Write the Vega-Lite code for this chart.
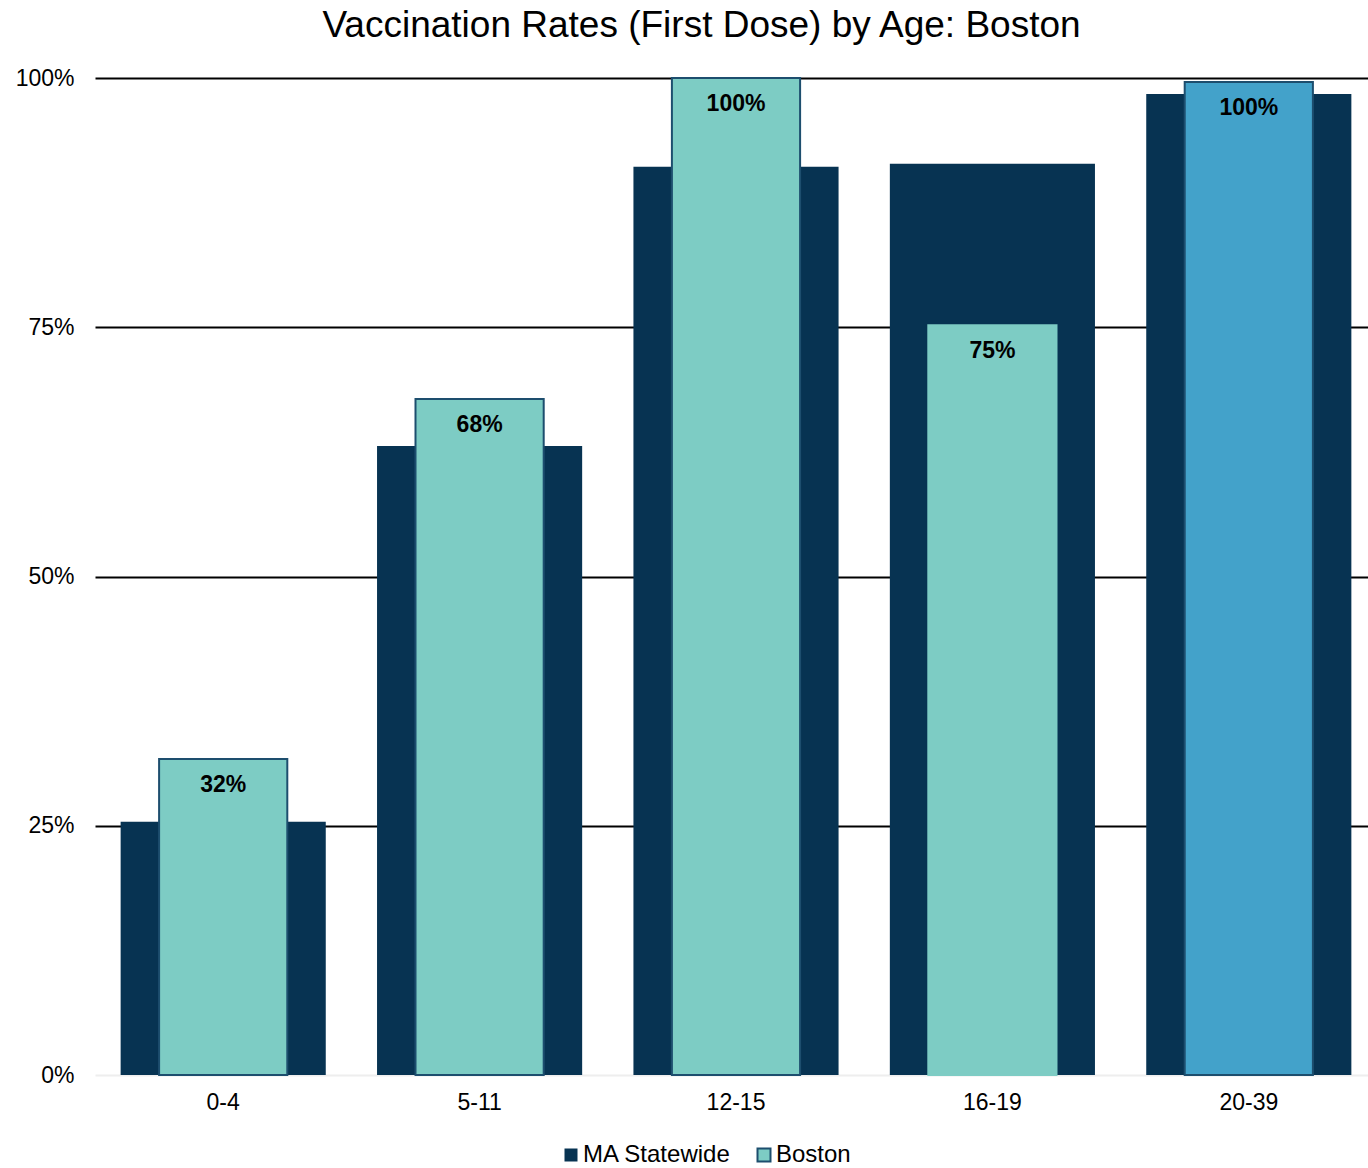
{
  "$schema": "https://vega.github.io/schema/vega-lite/v6.json",
  "width": 1273,
  "height": 997,
  "autosize": {"type": "none"},
  "padding": {"left": 95, "top": 78, "right": 0, "bottom": 93},
  "background": "white",
  "config": {
    "view": {"stroke": null},
    "font": "Liberation Sans"
  },
  "title": {
    "text": "Vaccination Rates (First Dose) by Age: Boston",
    "fontSize": 37,
    "fontWeight": "normal",
    "color": "black",
    "font": "Liberation Sans",
    "anchor": "middle",
    "offset": 22,
    "dx": -30
  },
  "data": {
    "values": [
      {"age": "0-4", "series": "MA Statewide", "value": 0.254},
      {"age": "5-11", "series": "MA Statewide", "value": 0.631},
      {"age": "12-15", "series": "MA Statewide", "value": 0.911},
      {"age": "16-19", "series": "MA Statewide", "value": 0.914},
      {"age": "20-39", "series": "MA Statewide", "value": 0.984},
      {"age": "0-4", "series": "Boston", "value": 0.317},
      {"age": "5-11", "series": "Boston", "value": 0.678},
      {"age": "12-15", "series": "Boston", "value": 1.0},
      {"age": "16-19", "series": "Boston", "value": 0.752},
      {"age": "20-39", "series": "Boston", "value": 0.996}
    ]
  },
  "encoding": {
    "x": {
      "field": "age",
      "type": "nominal",
      "sort": ["0-4", "5-11", "12-15", "16-19", "20-39"],
      "scale": {"range": [0, 1282], "paddingInner": 0, "paddingOuter": 0},
      "axis": {
        "title": null,
        "labelAngle": 0,
        "labelFontSize": 23,
        "labelColor": "black",
        "labelPadding": 16,
        "domain": false,
        "ticks": false
      }
    },
    "y": {
      "field": "value",
      "type": "quantitative",
      "scale": {"domain": [0, 1]},
      "axis": {
        "title": null,
        "format": ".0%",
        "values": [0, 0.25, 0.5, 0.75, 1],
        "labelFontSize": 23,
        "labelColor": "black",
        "labelPadding": 21,
        "domain": false,
        "ticks": false,
        "gridWidth": 2,
        "gridColor": {"condition": {"test": "datum.value === 0", "value": "#eeeeee"}, "value": "black"}
      }
    }
  },
  "layer": [
    {
      "transform": [{"filter": "datum.series === 'MA Statewide'"}],
      "mark": {"type": "bar", "width": {"band": 0.8}},
      "encoding": {
        "color": {
          "field": "series",
          "type": "nominal",
          "scale": {"domain": ["MA Statewide", "Boston"], "range": ["#073352", "#7DCCC4"]},
          "legend": {
            "title": null,
            "orient": "none",
            "direction": "horizontal",
            "legendX": 464,
            "legendY": 1065,
            "padding": 0,
            "labelFontSize": 24,
            "labelColor": "black",
            "labelOffset": 0,
            "symbolType": "square",
            "symbolSize": 169,
            "columnPadding": 20,
            "encode": {
              "symbols": {
                "update": {
                  "stroke": {"signal": "datum.label === 'Boston' ? '#1D4E6E' : 'transparent'"},
                  "strokeWidth": {"value": 2}
                }
              }
            }
          }
        }
      }
    },
    {
      "transform": [{"filter": "datum.series === 'Boston'"}],
      "mark": {"type": "bar", "width": {"band": 0.5}, "strokeWidth": 2},
      "encoding": {
        "color": {
          "condition": {"test": "datum.age === '20-39'", "value": "#43A2CA"},
          "field": "series",
          "type": "nominal"
        },
        "stroke": {
          "condition": {"test": "datum.age === '16-19'", "value": "#7DCCC4"},
          "value": "#1D4E6E"
        }
      }
    },
    {
      "transform": [{"filter": "datum.series === 'Boston'"}],
      "mark": {"type": "text", "baseline": "top", "dy": 15, "fontSize": 23, "fontWeight": "bold", "color": "black"},
      "encoding": {
        "text": {"field": "value", "type": "quantitative", "format": ".0%"}
      }
    }
  ]
}
